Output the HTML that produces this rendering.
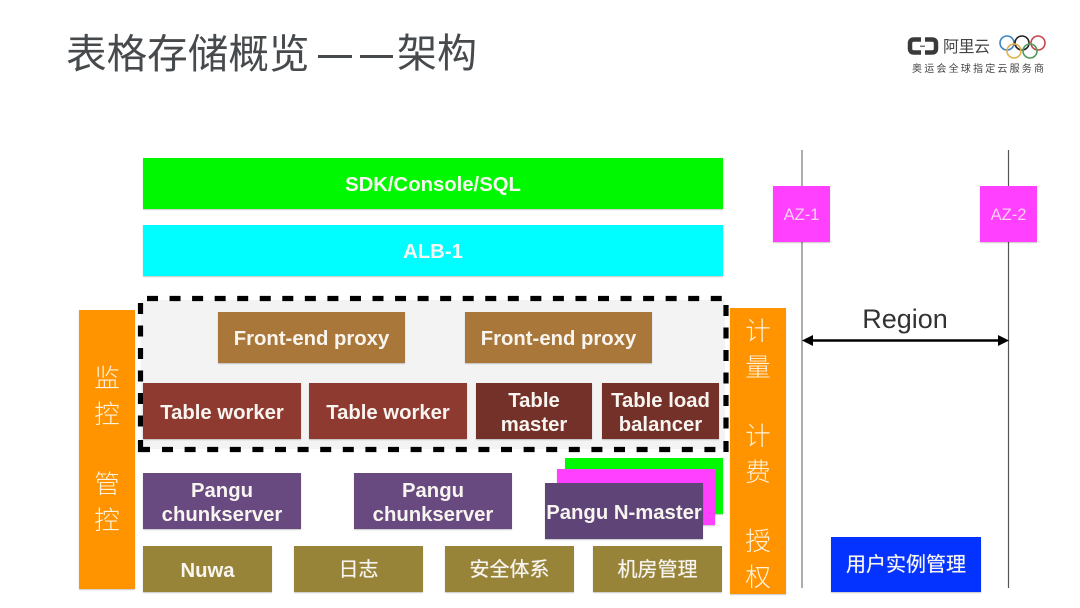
<!DOCTYPE html>
<html lang="zh">
<head>
<meta charset="utf-8">
<title>表格存储概览——架构</title>
<style>
html,body{margin:0;padding:0;background:#fff}
body{position:relative;width:1080px;height:608px;overflow:hidden;font-family:"Liberation Sans","Noto Sans CJK SC",sans-serif}
.b{position:absolute;display:flex;align-items:center;justify-content:center;text-align:center;color:#f8f5f0;font-weight:bold;font-size:20.3px;line-height:24px;box-sizing:border-box;box-shadow:0 1px 1px rgba(0,0,0,.22);padding-top:3px}
.c{font-weight:normal;font-size:20px;padding-top:2px;text-shadow:0 0 .6px #fff}
.a{position:absolute;color:#444;white-space:nowrap}
.v{position:absolute;color:#fff3de;font-size:25.5px;line-height:36px;text-align:center;width:56px;font-weight:300}
</style>
</head>
<body>
<div class="a" style="left:66px;top:26px;font-size:40.6px;line-height:56px;color:#474a4c">表格存储概览</div>
<div style="position:absolute;left:318px;top:55px;width:34px;height:3px;background:#474a4c"></div>
<div style="position:absolute;left:360px;top:55px;width:33px;height:3px;background:#474a4c"></div>
<div class="a" style="left:397px;top:26px;font-size:40px;line-height:56px;color:#474a4c">架构</div>

<svg style="position:absolute;left:900px;top:25px" width="160" height="55" viewBox="900 25 160 55">
<path d="M921 39.5h-7q-4 0-4 4v5q0 4 4 4h7M925 39.5h7q4 0 4 4v5q0 4-4 4h-7" fill="none" stroke="#3a3a3a" stroke-width="4.5"/>
<rect x="920" y="45.5" width="5" height="1.5" fill="#777"/>
<text x="943" y="52" font-size="16" fill="#444" textLength="47" font-family="'Noto Sans CJK SC',sans-serif">阿里云</text>
<g fill="none" stroke-width="1.6">
<circle cx="1007" cy="43" r="7" stroke="#3c83c4"/>
<circle cx="1022" cy="43" r="7" stroke="#222"/>
<circle cx="1038" cy="43" r="7" stroke="#c9444c"/>
<circle cx="1014" cy="51" r="7" stroke="#e3b04b"/>
<circle cx="1030" cy="51" r="7" stroke="#4f9a5a"/>
</g>
<text x="912" y="72" font-size="10" fill="#444" textLength="132" font-family="'Noto Sans CJK SC',sans-serif">奥运会全球指定云服务商</text>
</svg>

<div class="b" style="left:143px;top:158px;width:580px;height:51px;background:#00f900">SDK/Console/SQL</div>
<div class="b" style="left:143px;top:225px;width:580px;height:51px;background:#00fdff">ALB-1</div>

<div style="position:absolute;left:141px;top:300px;width:584px;height:149px;background:#f3f3f4"></div>
<svg style="position:absolute;left:0;top:0" width="1080" height="608" fill="none" stroke="#000" stroke-width="5.2">
<line x1="147" y1="298.5" x2="722" y2="298.5" stroke-dasharray="11 11.55"/>
<line x1="162" y1="449.5" x2="722" y2="449.5" stroke-dasharray="11 11.6"/>
<line x1="140.5" y1="303" x2="140.5" y2="438" stroke-dasharray="11 11.5"/>
<line x1="726" y1="305" x2="726" y2="440" stroke-dasharray="11 11.5"/>
<path d="M140.5 440V449.5H150"/>
<path d="M726 441V452"/>
</svg>

<div class="b" style="left:218px;top:312px;width:187px;height:51px;background:#a9773a">Front-end proxy</div>
<div class="b" style="left:465px;top:312px;width:187px;height:51px;background:#a9773a">Front-end proxy</div>

<div class="b" style="left:143px;top:383px;width:158px;height:56px;background:#8f3a30">Table worker</div>
<div class="b" style="left:309px;top:383px;width:158px;height:56px;background:#8f3a30">Table worker</div>
<div class="b" style="left:476px;top:383px;width:116px;height:56px;background:#743129">Table<br>master</div>
<div class="b" style="left:602px;top:383px;width:117px;height:56px;background:#743129">Table load<br>balancer</div>

<div class="b" style="left:143px;top:473px;width:158px;height:56px;background:#684a80;padding-top:4px">Pangu<br>chunkserver</div>
<div class="b" style="left:354px;top:473px;width:158px;height:56px;background:#684a80;padding-top:4px">Pangu<br>chunkserver</div>

<div class="b" style="left:565px;top:458px;width:158px;height:56px;background:#00f900"></div>
<div class="b" style="left:557px;top:469px;width:158px;height:56px;background:#ff40ff"></div>
<div class="b" style="left:545px;top:483px;width:158px;height:56px;background:#5f4478;white-space:nowrap">Pangu N-master</div>

<div class="b" style="left:143px;top:546px;width:129px;height:46px;background:#978439">Nuwa</div>
<div class="b c" style="left:294px;top:546px;width:129px;height:46px;background:#978439">日志</div>
<div class="b c" style="left:445px;top:546px;width:129px;height:46px;background:#978439">安全体系</div>
<div class="b c" style="left:593px;top:546px;width:129px;height:46px;background:#978439">机房管理</div>

<div class="b" style="left:79px;top:310px;width:56px;height:279px;background:#ff9300"></div>
<div class="v" style="left:79px;top:361px">监<br>控</div>
<div class="v" style="left:79px;top:467px">管<br>控</div>

<div class="b" style="left:730px;top:308px;width:56px;height:286px;background:#ff9300"></div>
<div class="v" style="left:730px;top:314px">计<br>量</div>
<div class="v" style="left:730px;top:419px">计<br>费</div>
<div class="v" style="left:730px;top:524px">授<br>权</div>

<svg style="position:absolute;left:0;top:0" width="1080" height="608">
<line x1="802" y1="150" x2="802" y2="588" stroke="#777" stroke-width="1.2"/>
<line x1="1008.5" y1="150" x2="1008.5" y2="588" stroke="#555" stroke-width="1.2"/>
<line x1="812" y1="340.5" x2="998" y2="340.5" stroke="#000" stroke-width="2.4"/>
<polygon points="802,340.5 813,335 813,346" fill="#000"/>
<polygon points="1009,340.5 998,335 998,346" fill="#000"/>
</svg>

<div class="b c" style="left:773px;top:186px;width:57px;height:56px;background:#ff40ff;font-size:16.5px;color:#ffd0f5;text-shadow:none">AZ-1</div>
<div class="b c" style="left:980px;top:186px;width:57px;height:56px;background:#ff40ff;font-size:16.5px;color:#ffd0f5;text-shadow:none">AZ-2</div>
<div class="a" style="left:805px;width:200px;text-align:center;top:303px;font-size:27px;line-height:32px;color:#333">Region</div>
<div class="b c" style="left:831px;top:537px;width:150px;height:55px;background:#0433ff;padding-top:1px;padding-bottom:1px">用户实例管理</div>
</body>
</html>
